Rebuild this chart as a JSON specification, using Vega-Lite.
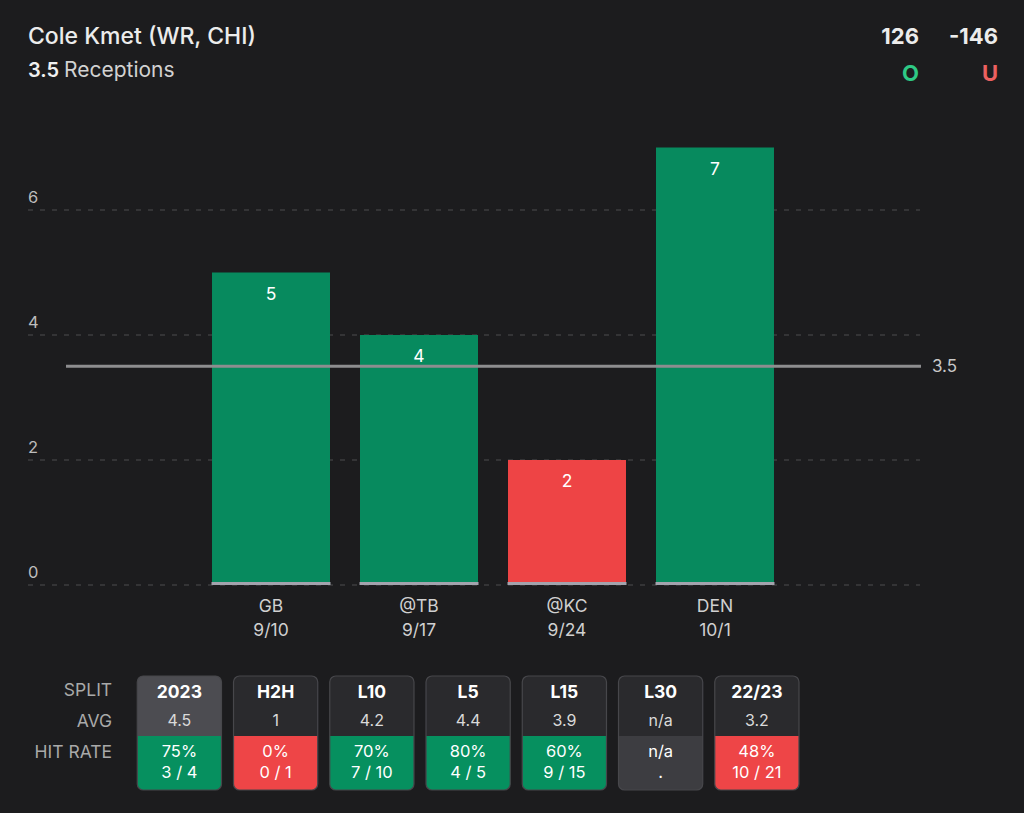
{
  "$schema": "https://vega.github.io/schema/vega-lite/v6.json",
  "width": 1024,
  "height": 813,
  "autosize": {"type": "none"},
  "padding": 0,
  "background": "#1c1c1e",
  "config": {"view": {"stroke": null}, "font": "Inter", "text": {"font": "Inter"}},
  "datasets": {
    "header": [{"player": "Cole Kmet (WR, CHI)", "line": "3.5", "stat": "Receptions"}],
    "odds": [{"side": "O", "odds": "126"}, {"side": "U", "odds": "-146"}],
    "ticks": [{"tick": 0}, {"tick": 2}, {"tick": 4}, {"tick": 6}],
    "games": [
      {"opp": "GB", "date": "9/10", "rec": 5, "result": "over"},
      {"opp": "@TB", "date": "9/17", "rec": 4, "result": "over"},
      {"opp": "@KC", "date": "9/24", "rec": 2, "result": "under"},
      {"opp": "DEN", "date": "10/1", "rec": 7, "result": "over"}
    ],
    "threshold": [{"line": 3.5}],
    "splits": [
      {"col": "2023", "avg": "4.5", "pct": "75%", "frac": "3 / 4", "status": "over", "sel": "yes"},
      {"col": "H2H", "avg": "1", "pct": "0%", "frac": "0 / 1", "status": "under", "sel": "no"},
      {"col": "L10", "avg": "4.2", "pct": "70%", "frac": "7 / 10", "status": "over", "sel": "no"},
      {"col": "L5", "avg": "4.4", "pct": "80%", "frac": "4 / 5", "status": "over", "sel": "no"},
      {"col": "L15", "avg": "3.9", "pct": "60%", "frac": "9 / 15", "status": "over", "sel": "no"},
      {"col": "L30", "avg": "n/a", "pct": "n/a", "frac": ".", "status": "na", "sel": "no"},
      {"col": "22/23", "avg": "3.2", "pct": "48%", "frac": "10 / 21", "status": "under", "sel": "no"}
    ],
    "rowlabels": [
      {"row": "SPLIT", "label": "SPLIT"},
      {"row": "AVG", "label": "AVG"},
      {"row": "HIT", "label": "HIT RATE"}
    ]
  },
  "resolve": {"scale": {"x": "independent", "y": "independent", "color": "independent"}},
  "layer": [
    {
      "data": {"name": "ticks"},
      "mark": {"type": "rule", "stroke": "#3c3c3f", "strokeWidth": 1.5, "strokeDash": [5, 7]},
      "encoding": {
        "x": {"datum": 0, "type": "quantitative", "scale": {"type": "linear", "domain": [0, 1], "range": [28, 920]}, "axis": null},
        "x2": {"datum": 1},
        "y": {"field": "tick", "type": "quantitative", "scale": {"domain": [0, 6], "range": [585, 210], "nice": false, "zero": false}, "axis": null}
      }
    },
    {
      "data": {"name": "ticks"},
      "mark": {"type": "text", "align": "left", "baseline": "middle", "dy": -12, "fontSize": 16.5, "color": "#bdbdbd"},
      "encoding": {
        "x": {"datum": 0, "type": "quantitative", "scale": {"type": "linear", "domain": [0, 1], "range": [28, 920]}, "axis": null},
        "y": {"field": "tick", "type": "quantitative", "scale": {"domain": [0, 6], "range": [585, 210], "nice": false, "zero": false}, "axis": null},
        "text": {"field": "tick", "type": "quantitative"}
      }
    },
    {
      "data": {"name": "games"},
      "mark": {"type": "bar"},
      "encoding": {
        "x": {"field": "opp", "type": "nominal", "sort": null, "scale": {"type": "band", "domain": ["GB", "@TB", "@KC", "DEN"], "range": [197, 789], "paddingInner": 0.2027, "paddingOuter": 0.1014}, "axis": null},
        "y": {"field": "rec", "type": "quantitative", "scale": {"domain": [0, 6], "range": [585, 210], "nice": false, "zero": false}, "axis": null},
        "color": {"field": "result", "type": "nominal", "scale": {"domain": ["over", "under"], "range": ["#078a5e", "#ee4445"]}, "legend": null}
      }
    },
    {
      "data": {"name": "games"},
      "mark": {"type": "tick", "color": "#a3a3ad", "thickness": 3, "size": 119, "yOffset": -1.5, "opacity": 1},
      "encoding": {
        "x": {"field": "opp", "type": "nominal", "sort": null, "scale": {"type": "band", "domain": ["GB", "@TB", "@KC", "DEN"], "range": [197, 789], "paddingInner": 0.2027, "paddingOuter": 0.1014}, "axis": null},
        "y": {"datum": 0, "type": "quantitative", "scale": {"domain": [0, 6], "range": [585, 210], "nice": false, "zero": false}, "axis": null}
      }
    },
    {
      "data": {"name": "threshold"},
      "mark": {"type": "rule", "stroke": "#8d8d8f", "strokeWidth": 3},
      "encoding": {
        "x": {"datum": 0, "type": "quantitative", "scale": {"type": "linear", "domain": [0, 1], "range": [66, 921]}, "axis": null},
        "x2": {"datum": 1},
        "y": {"field": "line", "type": "quantitative", "scale": {"domain": [0, 6], "range": [585, 210], "nice": false, "zero": false}, "axis": null}
      }
    },
    {
      "data": {"name": "threshold"},
      "mark": {"type": "text", "align": "left", "baseline": "middle", "dx": 11, "dy": 1, "fontSize": 17, "color": "#c8c8c8"},
      "encoding": {
        "x": {"datum": 1, "type": "quantitative", "scale": {"type": "linear", "domain": [0, 1], "range": [66, 921]}, "axis": null},
        "y": {"field": "line", "type": "quantitative", "scale": {"domain": [0, 6], "range": [585, 210], "nice": false, "zero": false}, "axis": null},
        "text": {"field": "line", "type": "quantitative"}
      }
    },
    {
      "data": {"name": "games"},
      "mark": {"type": "text", "baseline": "middle", "dy": 22, "fontSize": 17.5, "color": "#ffffff"},
      "encoding": {
        "x": {"field": "opp", "type": "nominal", "sort": null, "scale": {"type": "band", "domain": ["GB", "@TB", "@KC", "DEN"], "range": [197, 789], "paddingInner": 0.2027, "paddingOuter": 0.1014}, "axis": null},
        "y": {"field": "rec", "type": "quantitative", "scale": {"domain": [0, 6], "range": [585, 210], "nice": false, "zero": false}, "axis": null},
        "text": {"field": "rec", "type": "quantitative"}
      }
    },
    {
      "data": {"name": "games"},
      "mark": {"type": "text", "baseline": "middle", "dy": 22, "fontSize": 17.5, "color": "#d0d0d0"},
      "encoding": {
        "x": {"field": "opp", "type": "nominal", "sort": null, "scale": {"type": "band", "domain": ["GB", "@TB", "@KC", "DEN"], "range": [197, 789], "paddingInner": 0.2027, "paddingOuter": 0.1014}, "axis": null},
        "y": {"datum": 0, "type": "quantitative", "scale": {"domain": [0, 6], "range": [585, 210], "nice": false, "zero": false}, "axis": null},
        "text": {"field": "opp", "type": "nominal"}
      }
    },
    {
      "data": {"name": "games"},
      "mark": {"type": "text", "baseline": "middle", "dy": 46, "fontSize": 17.5, "color": "#d0d0d0"},
      "encoding": {
        "x": {"field": "opp", "type": "nominal", "sort": null, "scale": {"type": "band", "domain": ["GB", "@TB", "@KC", "DEN"], "range": [197, 789], "paddingInner": 0.2027, "paddingOuter": 0.1014}, "axis": null},
        "y": {"datum": 0, "type": "quantitative", "scale": {"domain": [0, 6], "range": [585, 210], "nice": false, "zero": false}, "axis": null},
        "text": {"field": "date", "type": "nominal"}
      }
    },
    {
      "data": {"name": "header"},
      "mark": {"type": "text", "align": "left", "baseline": "middle", "fontSize": 23, "fontWeight": 500, "color": "#ececec"},
      "encoding": {
        "x": {"datum": 0, "type": "quantitative", "scale": {"type": "linear", "domain": [0, 1], "range": [28, 920]}, "axis": null},
        "y": {"datum": "t", "type": "ordinal", "scale": {"type": "point", "domain": ["t", "s"], "range": [37, 71], "padding": 0}, "axis": null},
        "text": {"field": "player", "type": "nominal"}
      }
    },
    {
      "data": {"name": "header"},
      "mark": {"type": "text", "align": "left", "baseline": "middle", "fontSize": 20, "fontWeight": 600, "color": "#f0f0f0"},
      "encoding": {
        "x": {"datum": 0, "type": "quantitative", "scale": {"type": "linear", "domain": [0, 1], "range": [28, 920]}, "axis": null},
        "y": {"datum": "s", "type": "ordinal", "scale": {"type": "point", "domain": ["t", "s"], "range": [37, 71], "padding": 0}, "axis": null},
        "text": {"field": "line", "type": "nominal"}
      }
    },
    {
      "data": {"name": "header"},
      "mark": {"type": "text", "align": "left", "baseline": "middle", "dx": 36, "fontSize": 21, "fontWeight": 400, "color": "#d2d2d2"},
      "encoding": {
        "x": {"datum": 0, "type": "quantitative", "scale": {"type": "linear", "domain": [0, 1], "range": [28, 920]}, "axis": null},
        "y": {"datum": "s", "type": "ordinal", "scale": {"type": "point", "domain": ["t", "s"], "range": [37, 71], "padding": 0}, "axis": null},
        "text": {"field": "stat", "type": "nominal"}
      }
    },
    {
      "data": {"name": "odds"},
      "mark": {"type": "text", "align": "right", "baseline": "middle", "fontSize": 22, "fontWeight": 700, "color": "#ececec"},
      "encoding": {
        "x": {"field": "side", "type": "nominal", "scale": {"type": "point", "domain": ["O", "U"], "range": [919, 998], "padding": 0}, "axis": null},
        "y": {"datum": "t", "type": "ordinal", "scale": {"type": "point", "domain": ["t", "s"], "range": [37, 74], "padding": 0}, "axis": null},
        "text": {"field": "odds", "type": "nominal"}
      }
    },
    {
      "data": {"name": "odds"},
      "mark": {"type": "text", "align": "right", "baseline": "middle", "fontSize": 22, "fontWeight": 700},
      "encoding": {
        "x": {"field": "side", "type": "nominal", "scale": {"type": "point", "domain": ["O", "U"], "range": [919, 998], "padding": 0}, "axis": null},
        "y": {"datum": "s", "type": "ordinal", "scale": {"type": "point", "domain": ["t", "s"], "range": [37, 74], "padding": 0}, "axis": null},
        "text": {"field": "side", "type": "nominal"},
        "color": {"field": "side", "type": "nominal", "scale": {"domain": ["O", "U"], "range": ["#2ec985", "#ec6060"]}, "legend": null}
      }
    },
    {
      "data": {"name": "splits"},
      "mark": {"type": "rect", "cornerRadius": 6},
      "encoding": {
        "x": {"field": "col", "type": "nominal", "sort": null, "scale": {"type": "band", "domain": ["label", "2023", "H2H", "L10", "L5", "L15", "L30", "22/23"], "range": [35, 805], "paddingInner": 0.125, "paddingOuter": 0.0625}, "axis": null},
        "y": {"datum": "box", "type": "ordinal", "scale": {"type": "band", "domain": ["box"], "range": [676, 790], "paddingInner": 0, "paddingOuter": 0}, "axis": null},
        "color": {"field": "sel", "type": "nominal", "scale": {"domain": ["yes", "no"], "range": ["#4c4c51", "#2a2a2d"]}, "legend": null}
      }
    },
    {
      "data": {"name": "splits"},
      "mark": {"type": "rect", "cornerRadiusBottomLeft": 6, "cornerRadiusBottomRight": 6},
      "encoding": {
        "x": {"field": "col", "type": "nominal", "sort": null, "scale": {"type": "band", "domain": ["label", "2023", "H2H", "L10", "L5", "L15", "L30", "22/23"], "range": [35, 805], "paddingInner": 0.125, "paddingOuter": 0.0625}, "axis": null},
        "y": {"datum": "hit", "type": "ordinal", "scale": {"type": "band", "domain": ["top", "hit"], "range": [682, 790], "paddingInner": 0, "paddingOuter": 0}, "axis": null},
        "color": {"field": "status", "type": "nominal", "scale": {"domain": ["over", "under", "na"], "range": ["#06905f", "#ee4547", "#3d3d41"]}, "legend": null}
      }
    },
    {
      "data": {"name": "splits"},
      "mark": {"type": "rect", "cornerRadius": 6, "fill": "transparent", "stroke": "#47474b", "strokeWidth": 1.2},
      "encoding": {
        "x": {"field": "col", "type": "nominal", "sort": null, "scale": {"type": "band", "domain": ["label", "2023", "H2H", "L10", "L5", "L15", "L30", "22/23"], "range": [35, 805], "paddingInner": 0.125, "paddingOuter": 0.0625}, "axis": null},
        "y": {"datum": "box", "type": "ordinal", "scale": {"type": "band", "domain": ["box"], "range": [676, 790], "paddingInner": 0, "paddingOuter": 0}, "axis": null}
      }
    },
    {
      "data": {"name": "splits"},
      "mark": {"type": "text", "baseline": "middle", "fontSize": 17.5, "fontWeight": 700, "color": "#ffffff"},
      "encoding": {
        "x": {"field": "col", "type": "nominal", "sort": null, "scale": {"type": "band", "domain": ["label", "2023", "H2H", "L10", "L5", "L15", "L30", "22/23"], "range": [35, 805], "paddingInner": 0.125, "paddingOuter": 0.0625}, "axis": null},
        "y": {"datum": "SPLIT", "type": "ordinal", "scale": {"type": "point", "domain": ["SPLIT", "AVG", "HIT", "FRAC"], "range": [693, 773], "padding": 0}, "axis": null},
        "text": {"field": "col", "type": "nominal"}
      }
    },
    {
      "data": {"name": "splits"},
      "mark": {"type": "text", "baseline": "middle", "dy": 1, "fontSize": 16, "color": "#dadada"},
      "encoding": {
        "x": {"field": "col", "type": "nominal", "sort": null, "scale": {"type": "band", "domain": ["label", "2023", "H2H", "L10", "L5", "L15", "L30", "22/23"], "range": [35, 805], "paddingInner": 0.125, "paddingOuter": 0.0625}, "axis": null},
        "y": {"datum": "AVG", "type": "ordinal", "scale": {"type": "point", "domain": ["SPLIT", "AVG", "HIT", "FRAC"], "range": [693, 773], "padding": 0}, "axis": null},
        "text": {"field": "avg", "type": "nominal"}
      }
    },
    {
      "data": {"name": "splits"},
      "mark": {"type": "text", "baseline": "middle", "dy": 6, "fontSize": 16.5, "color": "#ffffff"},
      "encoding": {
        "x": {"field": "col", "type": "nominal", "sort": null, "scale": {"type": "band", "domain": ["label", "2023", "H2H", "L10", "L5", "L15", "L30", "22/23"], "range": [35, 805], "paddingInner": 0.125, "paddingOuter": 0.0625}, "axis": null},
        "y": {"datum": "HIT", "type": "ordinal", "scale": {"type": "point", "domain": ["SPLIT", "AVG", "HIT", "FRAC"], "range": [693, 773], "padding": 0}, "axis": null},
        "text": {"field": "pct", "type": "nominal"}
      }
    },
    {
      "data": {"name": "splits"},
      "mark": {"type": "text", "baseline": "middle", "fontSize": 16.5, "color": "#ffffff"},
      "encoding": {
        "x": {"field": "col", "type": "nominal", "sort": null, "scale": {"type": "band", "domain": ["label", "2023", "H2H", "L10", "L5", "L15", "L30", "22/23"], "range": [35, 805], "paddingInner": 0.125, "paddingOuter": 0.0625}, "axis": null},
        "y": {"datum": "FRAC", "type": "ordinal", "scale": {"type": "point", "domain": ["SPLIT", "AVG", "HIT", "FRAC"], "range": [693, 773], "padding": 0}, "axis": null},
        "text": {"field": "frac", "type": "nominal"}
      }
    },
    {
      "data": {"name": "rowlabels"},
      "mark": {"type": "text", "align": "right", "baseline": "middle", "dx": 29, "fontSize": 17.5, "color": "#a9a9a9"},
      "encoding": {
        "x": {"datum": "label", "type": "nominal", "scale": {"type": "band", "domain": ["label", "2023", "H2H", "L10", "L5", "L15", "L30", "22/23"], "range": [35, 805], "paddingInner": 0.125, "paddingOuter": 0.0625}, "axis": null},
        "y": {"field": "row", "type": "ordinal", "scale": {"type": "point", "domain": ["SPLIT", "AVG", "HIT"], "range": [691, 753], "padding": 0}, "axis": null},
        "text": {"field": "label", "type": "nominal"}
      }
    }
  ]
}
